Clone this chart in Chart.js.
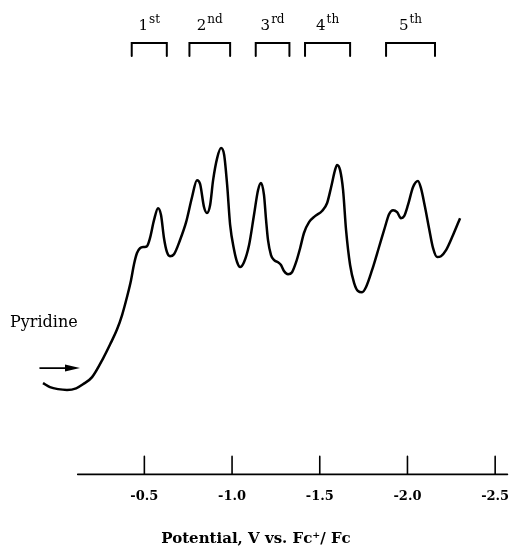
<!DOCTYPE html>
<html lang="en">
<head>
  <meta charset="UTF-8">
  <title>Pyridine voltammogram</title>
  <script src="https://cdn.jsdelivr.net/npm/chart.js"></script>
  <style>
    html, body {margin:0;padding:0;background:#fff}
    canvas {display:block}
  </style>
</head>
<body>
<canvas id="chart" width="512" height="548"></canvas>
<script>
// Potential (V vs. Fc+/Fc) and current (arbitrary units)
const potential = [0.078, 0.038, -0.008, -0.059, -0.111, -0.150, -0.202, -0.265, -0.305, -0.345,
  -0.373, -0.401, -0.424, -0.441, -0.458, -0.475, -0.498, -0.515, -0.532, -0.555,
  -0.578, -0.595, -0.612, -0.629, -0.646, -0.669, -0.703, -0.738, -0.772, -0.800,
  -0.818, -0.840, -0.857, -0.875, -0.892, -0.915, -0.937, -0.955, -0.972, -0.989,
  -1.012, -1.029, -1.046, -1.068, -1.097, -1.125, -1.148, -1.165, -1.182, -1.194,
  -1.205, -1.222, -1.240, -1.262, -1.279, -1.296, -1.319, -1.342, -1.365, -1.388,
  -1.410, -1.439, -1.473, -1.513, -1.542, -1.565, -1.587, -1.599, -1.616, -1.633,
  -1.650, -1.673, -1.696, -1.718, -1.741, -1.764, -1.798, -1.838, -1.872, -1.895,
  -1.918, -1.941, -1.963, -1.981, -2.003, -2.032, -2.060, -2.077, -2.100, -2.123,
  -2.146, -2.169, -2.191, -2.220, -2.260, -2.300];
const current = [22.8, 21.8, 21.3, 21.1, 21.5, 22.5, 24.3, 29.0, 32.5, 36.3,
  39.8, 44.3, 48.5, 52.5, 55.3, 56.5, 56.8, 57.0, 59.0, 63.5,
  66.5, 64.8, 59.0, 55.5, 54.5, 55.0, 58.5, 63.0, 69.3, 73.5,
  72.5, 66.8, 65.3, 67.3, 73.5, 79.0, 81.5, 79.8, 72.3, 62.3,
  56.0, 53.0, 51.8, 53.0, 57.3, 64.8, 71.0, 72.8, 69.8, 63.5,
  58.5, 54.8, 53.5, 53.0, 52.3, 50.8, 50.0, 50.5, 53.0, 56.5,
  60.3, 63.0, 64.5, 65.8, 67.8, 71.8, 76.0, 77.3, 76.0, 71.0,
  61.0, 52.3, 47.8, 45.8, 45.5, 46.8, 51.0, 56.8, 61.8, 65.0,
  66.0, 65.5, 64.0, 64.5, 67.3, 71.8, 73.3, 71.5, 66.8, 61.5,
  56.5, 54.3, 54.5, 56.0, 59.8, 64.0];

const tickValues = [-0.5, -1.0, -1.5, -2.0, -2.5];
const axisSpan = [-0.12, -2.57];

// reduction waves marked above the trace
const waveNames = ['1', '2', '3', '4', '5'];
const waveSuffix = ['st', 'nd', 'rd', 'th', 'th'];
const waveStart = [-0.428, -0.757, -1.135, -1.416, -1.878];
const waveEnd = [-0.628, -0.989, -1.327, -1.673, -2.157];

const compoundName = 'Pyridine';

const serif = '"DejaVu Serif", serif';

const decor = {
  id: 'decor',
  afterDraw(chart) {
    const ctx = chart.ctx;
    const x = chart.scales.x;
    const y = chart.scales.y;
    const base = chart.chartArea.bottom;
    const top = chart.chartArea.top;
    ctx.save();
    ctx.strokeStyle = '#000';
    ctx.fillStyle = '#000';
    ctx.lineCap = 'round';

    // axis line with upward ticks
    ctx.lineWidth = 1.6;
    ctx.beginPath();
    ctx.moveTo(x.getPixelForValue(axisSpan[0]), base);
    ctx.lineTo(x.getPixelForValue(axisSpan[1]), base);
    tickValues.forEach(v => {
      const px = x.getPixelForValue(v);
      ctx.moveTo(px, base);
      ctx.lineTo(px, base - 18);
    });
    ctx.stroke();

    // wave brackets and labels
    ctx.lineWidth = 2;
    ctx.textBaseline = 'alphabetic';
    waveStart.forEach((s, i) => {
      const x1 = x.getPixelForValue(s);
      const x2 = x.getPixelForValue(waveEnd[i]);
      ctx.beginPath();
      ctx.moveTo(x1, top + 56);
      ctx.lineTo(x1, top + 43);
      ctx.lineTo(x2, top + 43);
      ctx.lineTo(x2, top + 56);
      ctx.stroke();

      ctx.font = '15px ' + serif;
      const w1 = ctx.measureText(waveNames[i]).width;
      ctx.font = '12px ' + serif;
      const w2 = ctx.measureText(waveSuffix[i]).width;
      const cx = (x1 + x2) / 2;
      const lx = cx - (w1 + w2 + 1) / 2;
      ctx.textAlign = 'left';
      ctx.font = '15px ' + serif;
      ctx.fillText(waveNames[i], lx, top + 30);
      ctx.font = '12px ' + serif;
      ctx.fillText(waveSuffix[i], lx + w1 + 1, top + 23);
    });

    // compound label and scan direction arrow
    const px0 = x.getPixelForValue(potential[0]);
    const py0 = y.getPixelForValue(current[0]);
    ctx.font = '16px ' + serif;
    ctx.textAlign = 'left';
    ctx.textBaseline = 'middle';
    ctx.fillText(compoundName, px0 - 33, py0 - 60);

    ctx.lineWidth = 1.6;
    ctx.beginPath();
    ctx.moveTo(px0 - 3, py0 - 15);
    ctx.lineTo(px0 + 30, py0 - 15);
    ctx.stroke();
    ctx.beginPath();
    ctx.moveTo(px0 + 37, py0 - 15);
    ctx.lineTo(px0 + 22, py0 - 18.5);
    ctx.lineTo(px0 + 22, py0 - 11.5);
    ctx.closePath();
    ctx.fill();
    ctx.restore();
  }
};

new Chart(document.getElementById('chart'), {
  type: 'line',
  data: {
    datasets: [{
      data: potential.map((v, i) => ({x: v, y: current[i]})),
      borderColor: '#000',
      borderWidth: 2.5,
      pointRadius: 0,
      fill: false,
      cubicInterpolationMode: 'monotone'
    }]
  },
  options: {
    responsive: false,
    animation: false,
    layout: {padding: 0},
    plugins: {legend: {display: false}, tooltip: {enabled: false}},
    scales: {
      x: {
        type: 'linear',
        reverse: true,
        min: -2.596,
        max: 0.323,
        grid: {display: true, drawOnChartArea: false, drawTicks: true, tickLength: 12, tickColor: 'rgba(0,0,0,0)'},
        border: {display: false},
        afterBuildTicks: s => { s.ticks = tickValues.map(v => ({value: v})); },
        ticks: {
          color: '#000',
          padding: 2,
          font: {family: serif, size: 13, weight: 'bold'},
          callback: v => v.toFixed(1)
        },
        title: {
          display: true,
          text: 'Potential, V vs. Fc\u207A/ Fc',
          color: '#000',
          font: {family: serif, size: 15, weight: 'bold'},
          padding: {top: 24, bottom: 0}
        }
      },
      y: {
        display: false,
        min: 0,
        max: 118.5
      }
    }
  },
  plugins: [decor]
});
</script>
</body>
</html>
